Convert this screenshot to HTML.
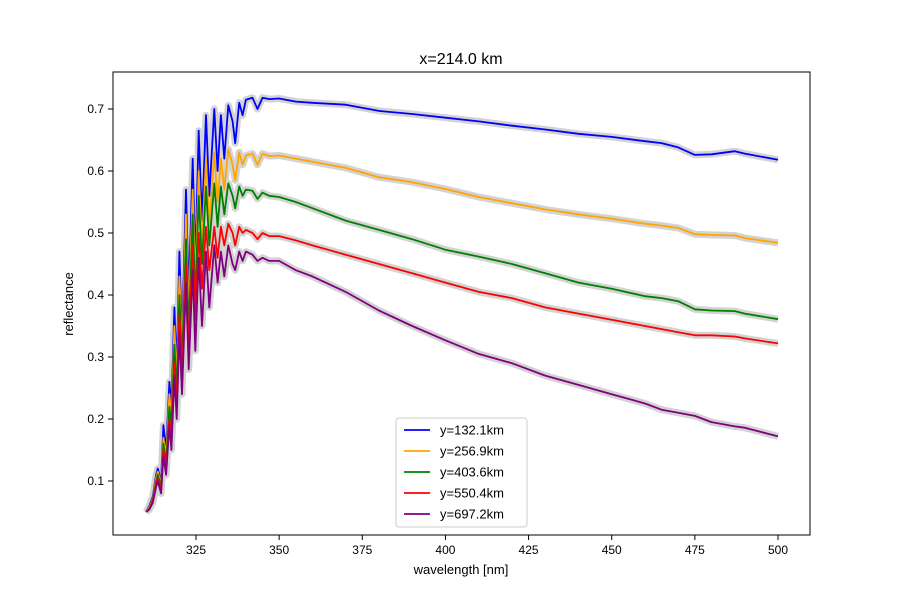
<!DOCTYPE html>
<html><head><meta charset="utf-8"><style>
body{margin:0;background:#fff}
svg{font-family:"Liberation Sans","DejaVu Sans",sans-serif}
</style></head><body>
<svg id="chart" width="900" height="600" xmlns="http://www.w3.org/2000/svg">
<rect width="900" height="600" fill="#fff"/>
<text x="461" y="64" font-size="16" text-anchor="middle">x=214.0 km</text>
<g id="bands"></g><g id="lines"></g>
<rect x="113" y="72" width="697" height="463" fill="none" stroke="#000" stroke-width="1"/>
<g id="axes"></g>
<text x="461" y="574" font-size="13" text-anchor="middle">wavelength [nm]</text>
<text transform="translate(73,304) rotate(-90)" font-size="13" text-anchor="middle">reflectance</text>
<g id="legend"></g>
</svg>
<script>
const wavelengths=[310,311,312,313,313.5,314.5,315.2,316,317,317.6,318.5,319.2,320,320.8,322,322.8,324,324.8,325.8,326.8,328,329,330.5,331.5,332.5,333.5,334.7,336,336.8,338,339,340,342,343.5,345,347,350,355,360,370,380,390,400,410,420,430,440,450,460,465,470,475,480,487,490,500];
const y132=[.05,.06,.075,.11,.12,.10,.19,.15,.26,.22,.38,.28,.47,.33,.57,.40,.62,.45,.665,.52,.69,.56,.70,.60,.69,.62,.706,.68,.645,.71,.69,.715,.718,.70,.718,.716,.717,.712,.71,.707,.697,.692,.686,.68,.673,.667,.66,.655,.648,.645,.638,.626,.627,.632,.628,.618];
const y256=[.05,.058,.072,.105,.115,.095,.17,.14,.24,.20,.35,.26,.43,.31,.53,.37,.57,.42,.60,.48,.62,.51,.63,.55,.62,.57,.635,.61,.585,.63,.61,.625,.628,.61,.628,.624,.625,.62,.615,.605,.59,.582,.571,.558,.548,.538,.530,.523,.515,.512,.508,.498,.497,.496,.492,.484];
const y403=[.05,.056,.07,.10,.11,.09,.16,.13,.22,.19,.32,.24,.40,.29,.49,.34,.53,.39,.56,.45,.575,.48,.58,.51,.575,.53,.58,.56,.54,.575,.56,.57,.568,.555,.565,.56,.558,.55,.54,.52,.505,.49,.473,.462,.45,.435,.42,.41,.398,.395,.39,.377,.375,.374,.37,.361];
const y550=[.05,.055,.068,.095,.105,.085,.15,.12,.20,.17,.29,.22,.37,.27,.45,.31,.48,.36,.50,.41,.51,.44,.51,.46,.51,.48,.515,.50,.48,.51,.50,.505,.50,.49,.50,.495,.495,.488,.48,.465,.45,.435,.42,.405,.395,.38,.37,.36,.35,.345,.34,.335,.335,.333,.33,.322];
const y697=[.05,.054,.065,.09,.10,.08,.14,.11,.19,.15,.27,.20,.34,.24,.42,.28,.44,.31,.46,.35,.47,.38,.48,.42,.47,.43,.48,.45,.44,.47,.455,.47,.465,.455,.46,.455,.455,.44,.43,.405,.375,.35,.327,.305,.29,.27,.255,.24,.225,.215,.21,.205,.195,.188,.186,.172];
const seriesLabels=["y=132.1km","y=256.9km","y=403.6km","y=550.4km","y=697.2km"];
const seriesColors=["blue","orange","green","red","purple"];
const xTicks=[325,350,375,400,425,450,475,500];
const yTicks=[0.1,0.2,0.3,0.4,0.5,0.6,0.7];
const NS="http://www.w3.org/2000/svg";
const X=w=>196+(w-325)*(778-196)/175;
const Y=v=>543-v*620;
const all=[y132,y256,y403,y550,y697];
const bands=document.getElementById('bands'),lines=document.getElementById('lines');
all.forEach((s,i)=>{
  const pts=s.map((v,j)=>X(wavelengths[j]).toFixed(1)+','+Y(v).toFixed(1)).join(' ');
  const b=document.createElementNS(NS,'polyline');
  
  
  b.setAttribute('points',pts);b.setAttribute('fill','none');b.setAttribute('stroke','#d3d3d3');b.setAttribute('stroke-width','7');b.setAttribute('stroke-linejoin','round');
  bands.appendChild(b);
  const l=document.createElementNS(NS,'polyline');
  
  
  l.setAttribute('points',pts);l.setAttribute('fill','none');l.setAttribute('stroke',seriesColors[i]);l.setAttribute('stroke-width','1.8');l.setAttribute('stroke-linejoin','round');
  lines.appendChild(l);
});
const axes=document.getElementById('axes');
xTicks.forEach(t=>{
  const g=document.createElementNS(NS,'g');
  
  
  g.innerHTML=`<line x1="${X(t)}" x2="${X(t)}" y1="535" y2="540" stroke="#000"/><text x="${X(t)}" y="554" font-size="12" text-anchor="middle">${t}</text>`;
  axes.appendChild(g);
});
yTicks.forEach(t=>{
  const g=document.createElementNS(NS,'g');
  
  
  g.innerHTML=`<line x1="108" x2="113" y1="${Y(t)}" y2="${Y(t)}" stroke="#000"/><text x="104" y="${Y(t)+4}" font-size="12" text-anchor="end">${t.toFixed(1)}</text>`;
  axes.appendChild(g);
});
const lg=document.getElementById('legend');
const box=document.createElementNS(NS,'rect');


box.setAttribute('x',396);box.setAttribute('y',418);box.setAttribute('width',131);box.setAttribute('height',109);box.setAttribute('rx',3);box.setAttribute('fill','#fff');box.setAttribute('fill-opacity','0.8');box.setAttribute('stroke','#ccc');
lg.appendChild(box);
seriesLabels.forEach((lab,i)=>{
  const g=document.createElementNS(NS,'g');
  
  
  const yy=430+i*21;
  g.innerHTML=`<line x1="404" x2="430" y1="${yy}" y2="${yy}" stroke="${seriesColors[i]}" stroke-width="1.8"/><text x="440" y="${yy+4.5}" font-size="13">${lab}</text>`;
  lg.appendChild(g);
});
</script>
</body></html>
